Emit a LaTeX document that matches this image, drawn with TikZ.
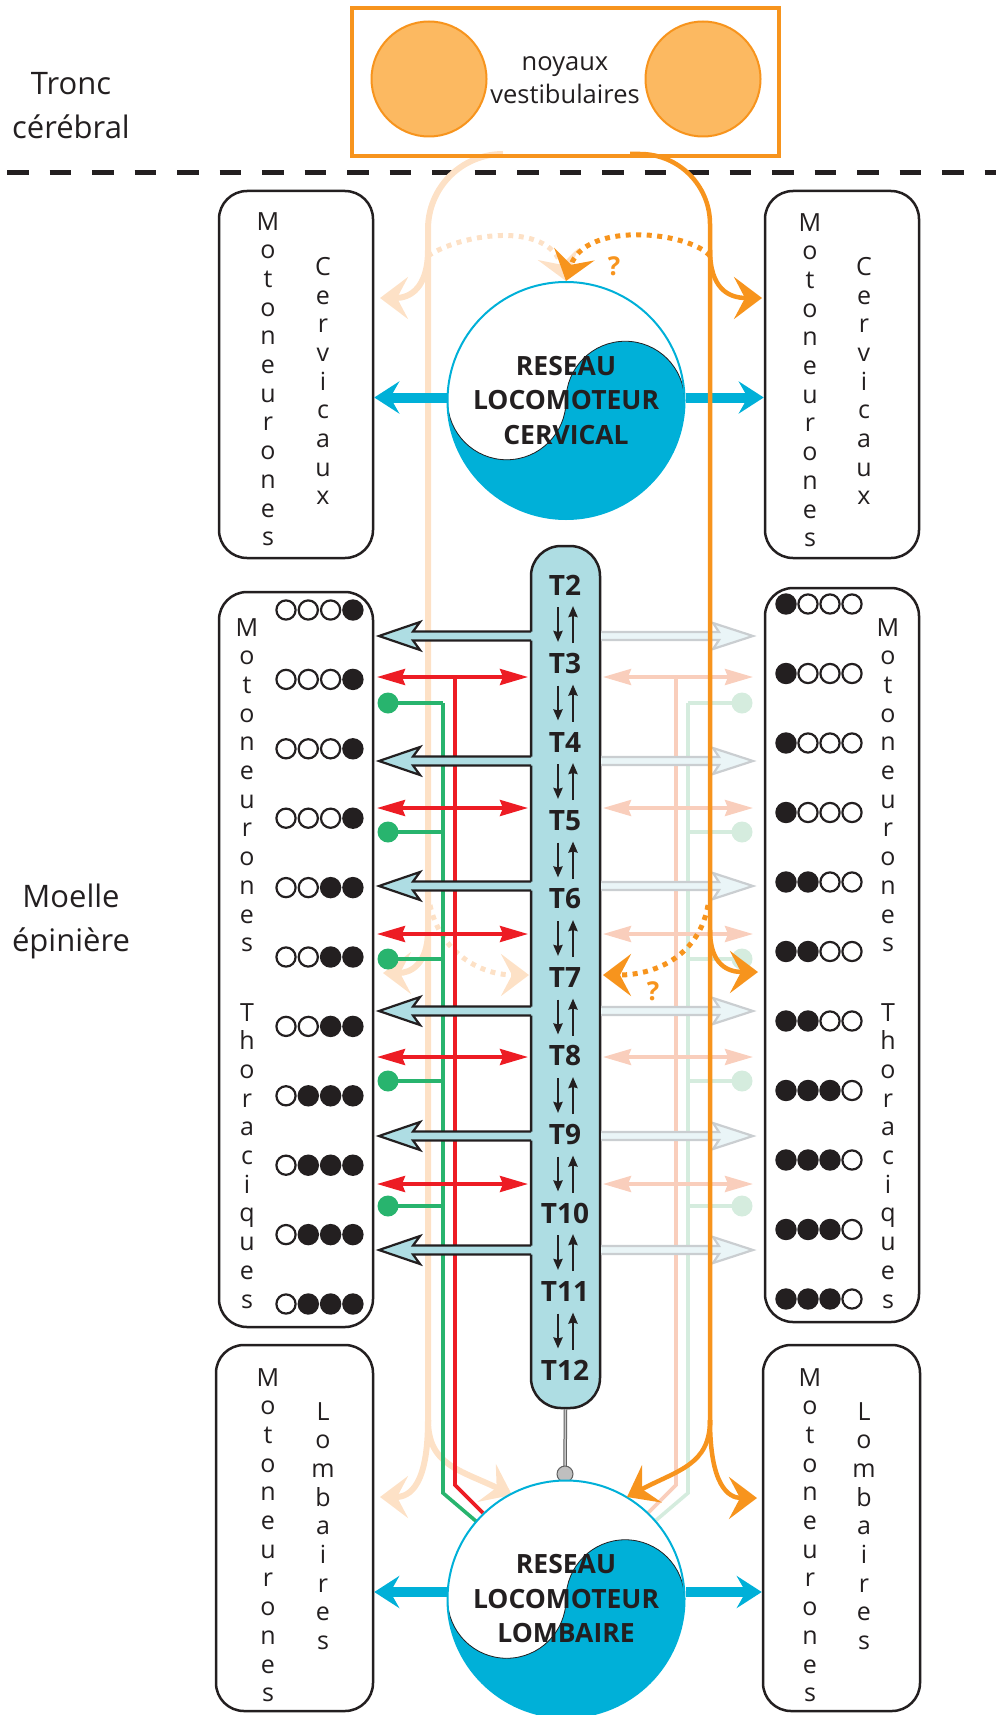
\documentclass[tikz,border=0pt]{standalone}
\usepackage{fontspec}
\setmainfont{Open Sans}
\usetikzlibrary{arrows.meta,positioning,calc}
\definecolor{ink}{RGB}{35,31,32}
\definecolor{orng}{RGB}{247,148,29}
\definecolor{orngfill}{RGB}{252,185,97}
\definecolor{peach}{RGB}{253,225,198}
\definecolor{cyanb}{RGB}{0,176,216}
\definecolor{tblue}{RGB}{174,221,227}
\definecolor{redl}{RGB}{237,28,36}
\definecolor{redf}{RGB}{249,206,188}
\definecolor{greenl}{RGB}{40,180,110}
\definecolor{greenf}{RGB}{213,236,222}
\definecolor{ghostfill}{RGB}{234,245,247}
\definecolor{ghostline}{RGB}{202,206,209}
\newcommand{\motoneur}{M\\o\\t\\o\\n\\e\\u\\r\\o\\n\\e\\s}

\begin{document}
\begin{tikzpicture}[x=1pt, y=-1pt,
    mbox/.style={draw=ink, line width=2.5pt, rounded corners=28pt, minimum width=154pt, inner sep=0pt},
    vtxt/.style={anchor=north, inner sep=0pt, align=center, text=ink, font=\fontsize{25}{28.7}\selectfont},
    side/.style={align=center, text=ink, font=\fontsize{31}{44}\selectfont},
    tcolumn/.style={draw=ink, fill=tblue, line width=2.5pt, rounded corners=30pt, minimum width=69pt, minimum height=862pt, inner sep=0pt},
    tlbl/.style={text=ink, inner sep=0pt, font=\fontsize{28}{32}\selectfont\bfseries},
    qlbl/.style={text=orng, inner sep=0pt, font=\fontsize{26}{30}\selectfont\bfseries},
    nucl/.style={circle, draw=orng, fill=orngfill, line width=2pt, minimum size=115pt, inner sep=0pt},
    net/.style={circle, draw=cyanb, fill=white, line width=2pt, minimum size=237pt, inner sep=0pt, align=center, text=ink,
        font=\fontsize{26.5}{34.5}\selectfont\bfseries,
        path picture={
            \fill[cyanb] ($(path picture bounding box.center)+(-118.5,0)$) arc[start angle=180,end angle=0,radius=59.25]
                arc[start angle=180,end angle=360,radius=59.25] arc[start angle=0,end angle=180,radius=118.5] -- cycle;
            \draw[ink, line width=0.8pt] ($(path picture bounding box.center)+(-118.5,0)$) arc[start angle=180,end angle=0,radius=59.25]
                arc[start angle=180,end angle=360,radius=59.25];
        }},
    orngline/.style={orng, line width=4.5pt},
    peachline/.style={peach, line width=6pt},
    arrorng/.style={orngline, -{Stealth[length=28pt,width=42pt,inset=11pt]}},
    arrpeach/.style={peachline, -{Stealth[length=28pt,width=42pt,inset=11pt]}},
    dotorng/.style={arrorng, line width=5pt, dash pattern=on 5pt off 5.5pt},
    dotpeach/.style={arrpeach, line width=5pt, dash pattern=on 5pt off 5.5pt},
    arrblue/.style={cyanb, line width=10pt, -{Stealth[length=25pt,width=32pt,inset=9pt]}},
    arrred/.style={redl, line width=3.6pt, {Stealth[length=28pt,width=16pt,inset=3pt]}-{Stealth[length=28pt,width=16pt,inset=3pt]}},
    smallarr/.style={ink, line width=2.8pt, -{Stealth[length=11pt,width=9pt,inset=1pt]}}
]
\useasboundingbox (0,0) rectangle (996,1715);

\draw[ink, line width=5pt, dash pattern=on 21.5pt off 21pt] (7,173) -- (996,173);
\node[side] (tronc) at (71,106) {Tronc\\cérébral};
\node[side] (moelle) at (71,921) {Moelle\\épinière};

\draw[peachline] (503,154) arc[start angle=270,end angle=180,radius=75] -- (428,1425);
\draw[arrpeach] (428,250) .. controls (428,288) and (410,298) .. (380,298);
\draw[arrpeach] (428,930) .. controls (428,965) and (410,973) .. (383,973);
\draw[arrpeach] (428,1420) .. controls (428,1485) and (410,1497) .. (380,1497);
\draw[arrpeach] (428,1420) .. controls (428,1465) and (460,1470) .. (512,1495);
\draw[dotpeach] (428,256) .. controls (460,234) and (548,220) .. (566,281);
\draw[dotpeach] (430,905) .. controls (440,952) and (480,975) .. (529,975);

\draw[redf, line width=3.6pt] (676,677) -- (676,1485) -- (648,1513);
\draw[greenf, line width=3.6pt] (688,703) -- (688,1493) -- (654,1522);
\foreach \y in {677,808,934,1057,1184}
    \draw[arrred, redf] (603,\y) -- (753,\y);
\foreach \y in {703,832,959,1081,1206} {
    \draw[greenf, line width=3.6pt] (688,\y) -- (742,\y);
    \fill[greenf] (742,\y) circle[radius=10.5pt];
}

\draw[redl, line width=3.6pt] (455,677) -- (455,1485) -- (483,1513);
\draw[greenl, line width=3.6pt] (443,703) -- (443,1493) -- (477,1522);
\foreach \y in {677,808,934,1057,1184}
    \draw[arrred] (377,\y) -- (528,\y);
\foreach \y in {703,832,959,1081,1206} {
    \draw[greenl, line width=3.6pt] (443,\y) -- (388,\y);
    \fill[greenl] (388,\y) circle[radius=10.5pt];
}

\node[mbox, minimum height=367pt] (cervL) at (296,374.5) {};
\node[mbox, minimum height=367pt] (cervR) at (842,374.5) {};
\node[mbox, minimum height=735pt] (thorL) at (296,959.5) {};
\node[mbox, minimum height=734pt] (thorR) at (842,955) {};
\node[mbox, minimum height=366pt, minimum width=157pt] (lombL) at (294.5,1528) {};
\node[mbox, minimum height=366pt, minimum width=157pt] (lombR) at (841.5,1528) {};

\node[vtxt] (cLm) at (268,212) {\motoneur};
\node[vtxt] (cLc) at (323,257) {C\\e\\r\\v\\i\\c\\a\\u\\x};
\node[vtxt] (cRm) at (810,213) {\motoneur};
\node[vtxt] (cRc) at (864,257) {C\\e\\r\\v\\i\\c\\a\\u\\x};
\node[vtxt] (tLm) at (247,618) {\motoneur};
\node[vtxt] (tLt) at (247,1003) {T\\h\\o\\r\\a\\c\\i\\q\\u\\e\\s};
\node[vtxt] (tRm) at (888,618) {\motoneur};
\node[vtxt] (tRt) at (888,1003) {T\\h\\o\\r\\a\\c\\i\\q\\u\\e\\s};
\node[vtxt] (lLm) at (268,1368) {\motoneur};
\node[vtxt] (lLl) at (323,1402) {L\\o\\m\\b\\a\\i\\r\\e\\s};
\node[vtxt] (lRm) at (810,1368) {\motoneur};
\node[vtxt] (lRl) at (864,1402) {L\\o\\m\\b\\a\\i\\r\\e\\s};

\foreach \k/\nf in {0/1,1/1,2/1,3/1,4/2,5/2,6/2,7/3,8/3,9/3,10/3} {
    \foreach \i in {0,1,2,3} {
        \ifnum\i<\numexpr4-\nf\relax
            \draw[ink, line width=2.2pt, fill=white] (286+22.3*\i, 610+69.4*\k) circle[radius=9.6pt];
        \else
            \draw[ink, line width=2.2pt, fill=ink] (286+22.3*\i, 610+69.4*\k) circle[radius=9.6pt];
        \fi
        \ifnum\i<\nf
            \draw[ink, line width=2.2pt, fill=ink] (786+22*\i, 604+69.5*\k) circle[radius=9.6pt];
        \else
            \draw[ink, line width=2.2pt, fill=white] (786+22*\i, 604+69.5*\k) circle[radius=9.6pt];
        \fi
    }
}

\node[tcolumn] (tcol) at (565.5,977) {};
\foreach \y in {636,761,886,1011,1136,1250} {
    \fill[tblue] (379,\y) -- (420,\y-14) -- (413,\y-4.5) -- (540,\y-4.5) -- (540,\y+4.5) -- (413,\y+4.5) -- (420,\y+14) -- cycle;
    \draw[ink, line width=2.2pt] (531,\y-4.5) -- (413,\y-4.5) -- (420,\y-14) -- (379,\y) -- (420,\y+14) -- (413,\y+4.5) -- (531,\y+4.5);
    \fill[ghostfill] (753,\y) -- (713,\y-13) -- (719,\y-4) -- (601,\y-4) -- (601,\y+4) -- (719,\y+4) -- (713,\y+13) -- cycle;
    \draw[ghostline, line width=2.2pt] (601,\y-4) -- (719,\y-4) -- (713,\y-13) -- (753,\y) -- (713,\y+13) -- (719,\y+4) -- (601,\y+4);
}
\foreach \k in {2,...,12}
    \node[tlbl] (t\k) at (565,{585+78.5*(\k-2)}) {T\k};
\foreach \k in {2,...,11} {
    \draw[smallarr] (558,{607+78.5*(\k-2)}) -- (558,{642+78.5*(\k-2)});
    \draw[smallarr] (573,{643+78.5*(\k-2)}) -- (573,{606+78.5*(\k-2)});
}

\draw[gray!75!black, line width=3.5pt] (tcol.south) -- (565,1467);
\draw[gray!45, line width=1.5pt] (tcol.south) -- (565,1467);
\node[circle, fill=gray!50, draw=gray!75!black, line width=1pt, minimum size=16pt, inner sep=0pt] (knob) at (565,1474) {};

\node[net] (cerv) at (566,400.5) {RESEAU\\LOCOMOTEUR\\CERVICAL};
\node[net] (lomb) at (566,1599) {RESEAU\\LOCOMOTEUR\\LOMBAIRE};
\draw[arrblue] ($(cerv.west)+(0,-3)$) -- ($(cerv.west -| cervL.east)+(0,-3)$);
\draw[arrblue] ($(cerv.east)+(0,-3)$) -- ($(cerv.east -| cervR.west)+(0,-3)$);
\draw[arrblue] ($(lomb.west)+(0,-7)$) -- ($(lomb.west -| lombL.east)+(0,-7)$);
\draw[arrblue] ($(lomb.east)+(0,-7)$) -- ($(lomb.east -| lombR.west)+(0,-7)$);

\node[draw=orng, line width=4pt, minimum width=427pt, minimum height=148pt, inner sep=0pt] (nuc) at (565.5,82) {};
\node[nucl] (nucL) at (429,79) {};
\node[nucl] (nucR) at (703,79) {};
\node[align=center, text=ink, font=\fontsize{25.5}{33}\selectfont] (nuctxt) at (565,80) {noyaux\\vestibulaires};

\draw[orngline] (630,154) -- (640,154) arc[start angle=270,end angle=360,radius=70] -- (710,1425);
\draw[arrorng] (710,250) .. controls (710,288) and (728,298) .. (762,298);
\draw[arrorng] (710,930) .. controls (710,965) and (728,972) .. (758,972);
\draw[arrorng] (710,1420) .. controls (710,1485) and (728,1498) .. (757,1498);
\draw[arrorng] (710,1420) .. controls (710,1465) and (678,1470) .. (627,1497);
\draw[dotorng] (710,256) .. controls (690,232) and (585,220) .. (566,281);
\draw[dotorng] (708,905) .. controls (700,952) and (660,975) .. (603,975);
\node[qlbl] (q1) at (614,266) {?};
\node[qlbl] (q2) at (653,991) {?};
\end{tikzpicture}
\end{document}
